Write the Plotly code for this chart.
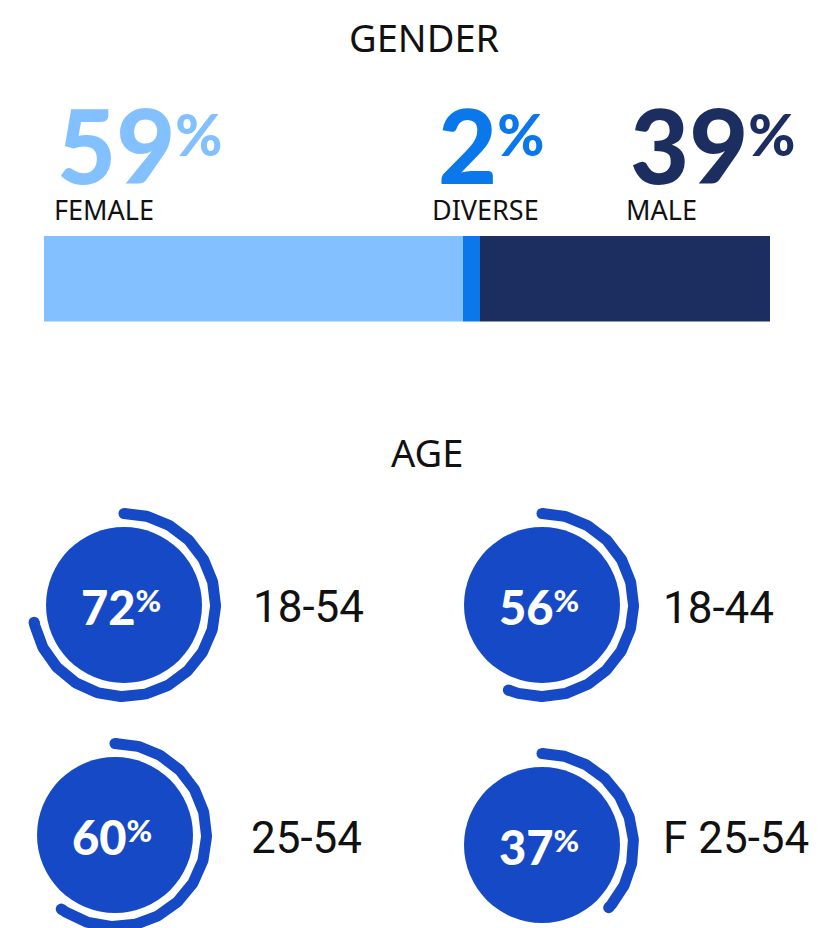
import numpy as np
import plotly.graph_objects as go

W, H = 829, 928
OFF = 8  # page body margin: data coords below are screen pixels

# ---------------- data ----------------
gender_labels = ["FEMALE", "DIVERSE", "MALE"]
gender_pct = [59, 2, 39]                 # printed values
gender_bar_share = [57.7, 2.3, 40.0]     # segment widths as drawn in the bar
gender_colors = ["#82C0FF", "#0A78EA", "#1C2D5F"]

age_groups = ["18-54", "18-44", "25-54", "F 25-54"]
age_pct = [72, 56, 60, 37]
age_color = "#1649C6"

# ---------------- layout helpers (screen pixel positions) ----------------
num_x = [55, 436, 628]
num_y = 144
lab_x = [52, 430, 624]
lab_y = 209

gauge_cx = [124, 542, 115, 542]
gauge_cy = [605, 605, 835, 845]
circle_r = 78
arc_r = 91.5
arc_w = 11
age_lab_x = [251, 661, 249, 661]
age_lab_y = [607, 608, 838, 838]

fig = go.Figure()

# stacked gender bar
for lab, share, col in zip(gender_labels, gender_bar_share, gender_colors):
    fig.add_trace(go.Bar(
        x=[share], y=[0], orientation="h", width=1,
        marker=dict(color=col, line=dict(width=0)),
        xaxis="x2", yaxis="y2", showlegend=False, hoverinfo="skip", name=lab))

shapes = []
annotations = []

# gender numbers + labels
for i, (lab, pct, col) in enumerate(zip(gender_labels, gender_pct, gender_colors)):
    annotations.append(dict(
        x=num_x[i], y=num_y, xref="x", yref="y", xanchor="left", yanchor="middle",
        showarrow=False,
        text=f"<span style='font-size:102px'>{pct}</span><sup><span style='font-size:57px'>%</span></sup>",
        font=dict(family="Lato", size=67, color=col, weight=900)))
    annotations.append(dict(
        x=lab_x[i], y=lab_y, xref="x", yref="y", xanchor="left", yanchor="middle",
        showarrow=False, text=lab,
        font=dict(family="Noto Sans", size=27, color="#111111")))

# titles
annotations.append(dict(x=424, y=37, xref="x", yref="y", showarrow=False, text="GENDER",
                        font=dict(family="Noto Sans", size=38, color="#111111")))
annotations.append(dict(x=427, y=452, xref="x", yref="y", showarrow=False, text="AGE",
                        font=dict(family="Noto Sans", size=38, color="#111111")))

# age gauges
for i, (grp, pct) in enumerate(zip(age_groups, age_pct)):
    cx, cy = gauge_cx[i], gauge_cy[i]
    shapes.append(dict(type="circle", xref="x", yref="y",
                       x0=cx - circle_r, x1=cx + circle_r, y0=cy - circle_r, y1=cy + circle_r,
                       fillcolor=age_color, line=dict(width=0), layer="below"))
    th = np.linspace(0, pct / 100 * 2 * np.pi, 240)
    ax = cx + arc_r * np.sin(th)
    ay = cy - arc_r * np.cos(th)
    fig.add_trace(go.Scatter(x=ax, y=ay, mode="lines", xaxis="x", yaxis="y",
                             line=dict(color=age_color, width=arc_w),
                             showlegend=False, hoverinfo="skip"))
    fig.add_trace(go.Scatter(x=[ax[0], ax[-1]], y=[ay[0], ay[-1]], mode="markers",
                             xaxis="x", yaxis="y",
                             marker=dict(color=age_color, size=arc_w, line=dict(width=0)),
                             showlegend=False, hoverinfo="skip"))
    annotations.append(dict(
        x=cx - 3, y=cy + 2, xref="x", yref="y", xanchor="center", yanchor="middle",
        showarrow=False,
        text=f"<span style='font-size:47px'>{pct}</span><sup><span style='font-size:31px'>%</span></sup>",
        font=dict(family="Lato", size=30, color="white", weight=900)))
    annotations.append(dict(
        x=age_lab_x[i], y=age_lab_y[i], xref="x", yref="y", xanchor="left", yanchor="middle",
        showarrow=False, text=grp,
        font=dict(family="Roboto", size=44, color="#111111")))

fig.update_layout(
    width=W, height=H, margin=dict(l=0, r=0, t=0, b=0),
    paper_bgcolor="white", plot_bgcolor="rgba(0,0,0,0)",
    barmode="stack", bargap=0,
    xaxis=dict(domain=[0, 1], range=[OFF, W + OFF], visible=False, fixedrange=True),
    yaxis=dict(domain=[0, 1], range=[H + OFF, OFF], visible=False, fixedrange=True),
    xaxis2=dict(domain=[(44 - OFF) / W, (770 - OFF) / W], range=[0, 100], visible=False, anchor="y2"),
    yaxis2=dict(domain=[1 - (321.5 - OFF) / H, 1 - (236 - OFF) / H], range=[-0.5, 0.5],
                visible=False, anchor="x2"),
    shapes=shapes, annotations=annotations,
)

fig.write_html("out.html")
